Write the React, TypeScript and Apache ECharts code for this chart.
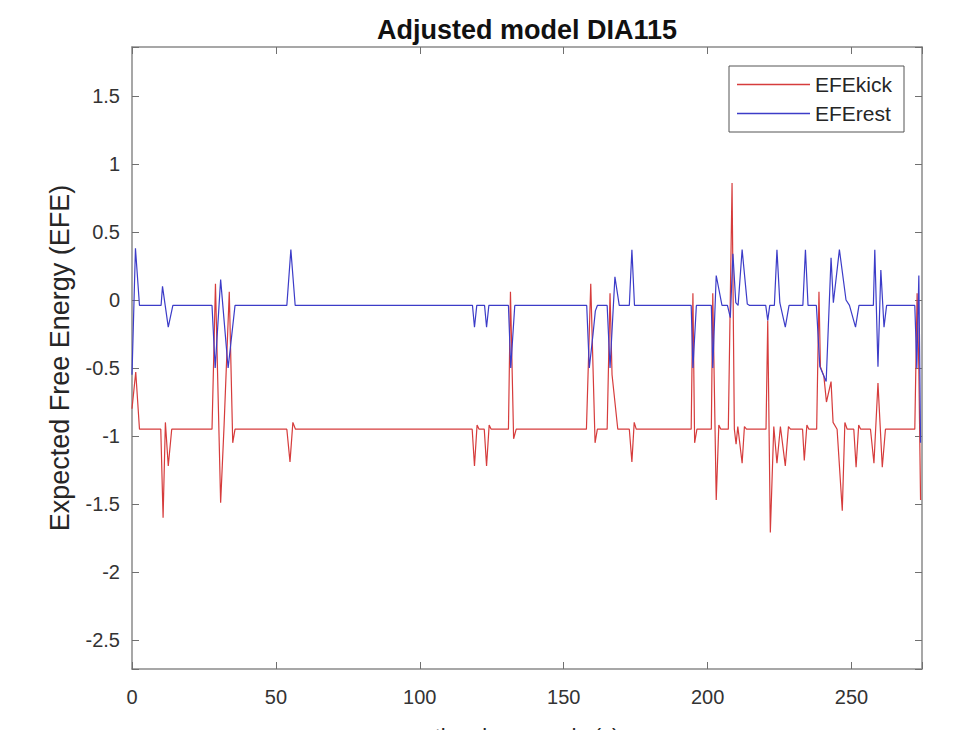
import React, { useEffect, useRef } from "react";
import * as echarts from "echarts";

const titleText = "Adjusted model DIA115";
const xAxisName = "time in seconds (s)";
const yAxisName = "Expected Free Energy (EFE)";
const seriesNames = ["EFEkick", "EFErest"];

// EFEkick (red) key points: time (s) and value
const kickTime = [
  0, 1.3, 2.6,
  10.0, 10.8, 11.6, 12.6, 13.8,
  27.8, 29.0, 30.8, 32.0, 33.8, 35.0, 35.8,
  53.8, 54.9, 55.9, 56.8,
  118.2, 119.0, 119.9, 120.6, 122.4, 123.2, 124.1, 124.8,
  130.8, 131.5, 132.6, 133.5,
  157.9, 159.4, 160.9, 161.7, 165.1, 166.1, 166.8, 168.8,
  172.8, 173.7, 174.5, 175.2,
  194.3, 194.9, 195.5, 196.3,
  201.3, 201.8, 203.0, 203.9, 204.6,
  207.2, 208.5, 209.3, 209.9, 210.5, 212.0, 212.8, 213.5,
  220.3, 220.9, 221.8, 223.0, 224.1, 225.3, 227.0, 228.1, 228.8,
  233.0, 233.6, 234.5, 235.2,
  237.9, 238.7, 239.2, 240.4, 241.3, 242.9, 243.6, 245.0, 246.8, 247.7, 248.5,
  250.8, 251.6, 252.5, 253.2,
  256.6, 257.8, 259.2, 260.7, 261.8,
  272.0, 272.8, 273.4, 274.0,
];
const kickValue = [
  -0.8, -0.53, -0.95,
  -0.95, -1.6, -0.9, -1.22, -0.95,
  -0.95, 0.12, -1.49, -0.92, 0.06, -1.05, -0.95,
  -0.95, -1.19, -0.9, -0.95,
  -0.95, -1.22, -0.92, -0.95, -0.95, -1.22, -0.92, -0.95,
  -0.95, 0.06, -1.02, -0.95,
  -0.95, 0.12, -1.05, -0.95, -0.95, 0.05, -0.55, -0.95,
  -0.95, -1.19, -0.9, -0.95,
  -0.95, 0.05, -1.05, -0.95,
  -0.95, 0.05, -1.47, -0.92, -0.95,
  -0.95, 0.86, -0.95, -1.06, -0.93, -1.2, -0.93, -0.95,
  -0.95, -0.15, -1.71, -0.93, -1.2, -0.93, -1.22, -0.93, -0.95,
  -0.95, -1.18, -0.92, -0.95,
  -0.95, 0.06, -0.49, -0.56, -0.75, -0.6, -0.9, -0.95, -1.55, -0.9, -0.95,
  -0.95, -1.23, -0.92, -0.95,
  -0.95, -1.2, -0.61, -1.23, -0.95,
  -0.95, 0.05, -0.5, -1.47,
];

// EFErest (blue) key points: time (s) and value
const restTime = [
  0, 1.2, 2.6,
  10.1, 10.6, 12.6, 14.2,
  27.8, 28.9, 30.8, 33.4, 35.8,
  53.8, 55.2, 56.7,
  118.3, 119.0, 119.8, 122.5, 123.2, 124.0,
  130.8, 131.6, 133.0,
  158.0, 158.9, 160.2, 161.0, 161.7, 165.1, 166.1, 167.8, 169.3,
  172.8, 173.7, 174.6,
  194.3, 194.9, 196.1,
  201.3, 201.8, 203.0, 205.0,
  206.9, 207.9, 208.8, 209.8, 210.6, 212.0, 213.8, 214.6,
  220.2, 220.9, 221.6, 223.2, 224.1, 225.1, 227.0, 228.3,
  233.1, 234.0, 234.9,
  237.8, 239.0, 241.2, 242.9, 243.7, 245.8, 248.1, 249.3, 251.4, 252.6,
  257.6, 258.1, 259.2, 260.2, 261.3, 262.2,
  272.0, 272.7, 273.4, 274.0,
];
const restValue = [
  -0.55, 0.38, -0.04,
  -0.04, 0.1, -0.2, -0.04,
  -0.04, -0.5, 0.15, -0.5, -0.04,
  -0.04, 0.37, -0.04,
  -0.04, -0.2, -0.04, -0.04, -0.2, -0.04,
  -0.04, -0.5, -0.04,
  -0.04, -0.5, -0.25, -0.08, -0.04, -0.04, -0.5, 0.17, -0.04,
  -0.04, 0.37, -0.04,
  -0.04, -0.5, -0.04,
  -0.04, -0.5, 0.18, -0.04,
  -0.04, -0.13, 0.34, -0.02, -0.04, 0.37, -0.03, -0.04,
  -0.04, -0.15, -0.04, -0.04, 0.37, -0.02, -0.2, -0.04,
  -0.04, 0.37, -0.04,
  -0.04, -0.49, -0.6, 0.31, -0.02, 0.37, 0.0, -0.04, -0.2, -0.04,
  -0.04, 0.37, -0.49, 0.22, -0.2, -0.04,
  -0.04, -0.5, 0.18, -1.05,
];

const xMin = 0;
const xMax = 274.5;
const xInterval = 50;
const yMin = -2.713;
const yMax = 1.86;

const FONT = "'Liberation Sans', Arial, Helvetica, sans-serif";
const AXIS_COLOR = "#8a8a8a";
const TEXT_COLOR = "#262626";

export default function App() {
  const ref = useRef<HTMLDivElement>(null);

  useEffect(() => {
    if (!ref.current) return;
    const chart = echarts.init(ref.current, undefined, { renderer: "svg", width: 976, height: 730 });

    const yFmt = (v: number) => {
      const d = v * 2;
      if (Math.abs(d - Math.round(d)) > 1e-6) return "";
      return String(Math.round(v * 10) / 10);
    };
    const xFmt = (v: number) => (Math.abs(v % xInterval) < 1e-6 ? String(v) : "");

    const tick = { show: true, inside: true, length: 7, lineStyle: { color: "#707070", width: 1 } };
    const axisLine = { show: true, onZero: false, lineStyle: { color: AXIS_COLOR, width: 1.5 } };

    chart.setOption({
      animation: false,
      backgroundColor: "#ffffff",
      textStyle: { fontFamily: FONT },
      title: {
        text: titleText,
        left: 522,
        top: 11,
        textAlign: "center",
        textStyle: { fontFamily: FONT, fontSize: 27, fontWeight: "bold", color: "#111" },
      },
      graphic: [
        {
          type: "rect",
          z: 3,
          shape: { x: 729, y: 66, width: 175, height: 66 },
          style: { fill: "#ffffff", stroke: "#555555", lineWidth: 1 },
        },
      ],
      legend: {
        orient: "vertical",
        left: 729,
        top: 66,
        z: 10,
        padding: [8, 1, 8, 8],
        icon: "rect",
        itemWidth: 73,
        itemHeight: 1.5,
        itemGap: 8,
        borderWidth: 0,
        textStyle: { fontFamily: FONT, fontSize: 21, color: TEXT_COLOR, lineHeight: 21 },
        data: seriesNames,
      },
      grid: {
        left: 132,
        top: 47,
        right: 54,
        bottom: 61,
        containLabel: false,
        outerBoundsMode: "none",
      },
      xAxis: [
        {
          type: "value",
          min: xMin,
          max: xMax,
          interval: xInterval,
          name: xAxisName,
          nameLocation: "middle",
          nameGap: 56,
          nameTextStyle: { fontFamily: FONT, fontSize: 22, color: TEXT_COLOR },
          axisLine,
          axisTick: tick,
          splitLine: { show: false },
          axisLabel: { formatter: xFmt, margin: 18, fontSize: 20, color: "#333", fontFamily: FONT },
        },
        {
          type: "value",
          position: "top",
          min: xMin,
          max: xMax,
          interval: xInterval,
          axisLine,
          axisTick: tick,
          splitLine: { show: false },
          axisLabel: { show: false },
        },
      ],
      yAxis: [
        {
          type: "value",
          min: yMin,
          max: yMax,
          splitNumber: 9,
          name: yAxisName,
          nameLocation: "middle",
          nameGap: 59,
          nameTextStyle: { fontFamily: FONT, fontSize: 27, color: TEXT_COLOR },
          axisLine,
          axisTick: tick,
          splitLine: { show: false },
          axisLabel: { formatter: yFmt, margin: 12, fontSize: 20, color: "#333", fontFamily: FONT },
        },
        {
          type: "value",
          position: "right",
          min: yMin,
          max: yMax,
          splitNumber: 9,
          axisLine,
          axisTick: tick,
          splitLine: { show: false },
          axisLabel: { show: false },
        },
      ],
      series: [
        {
          name: seriesNames[0],
          type: "line",
          symbol: "none",
          lineStyle: { color: "#d63c3c", width: 1.2 },
          itemStyle: { color: "#d63c3c" },
          data: kickTime.map((t, i) => [t, kickValue[i]]),
          z: 2,
        },
        {
          name: seriesNames[1],
          type: "line",
          symbol: "none",
          lineStyle: { color: "#3c3cc8", width: 1.2 },
          itemStyle: { color: "#3c3cc8" },
          data: restTime.map((t, i) => [t, restValue[i]]),
          z: 3,
        },
      ],
    });

    return () => chart.dispose();
  }, []);

  return (
    <div
      ref={ref}
      style={{ position: "fixed", left: 0, top: 0, width: 976, height: 730, background: "#fff" }}
    />
  );
}
